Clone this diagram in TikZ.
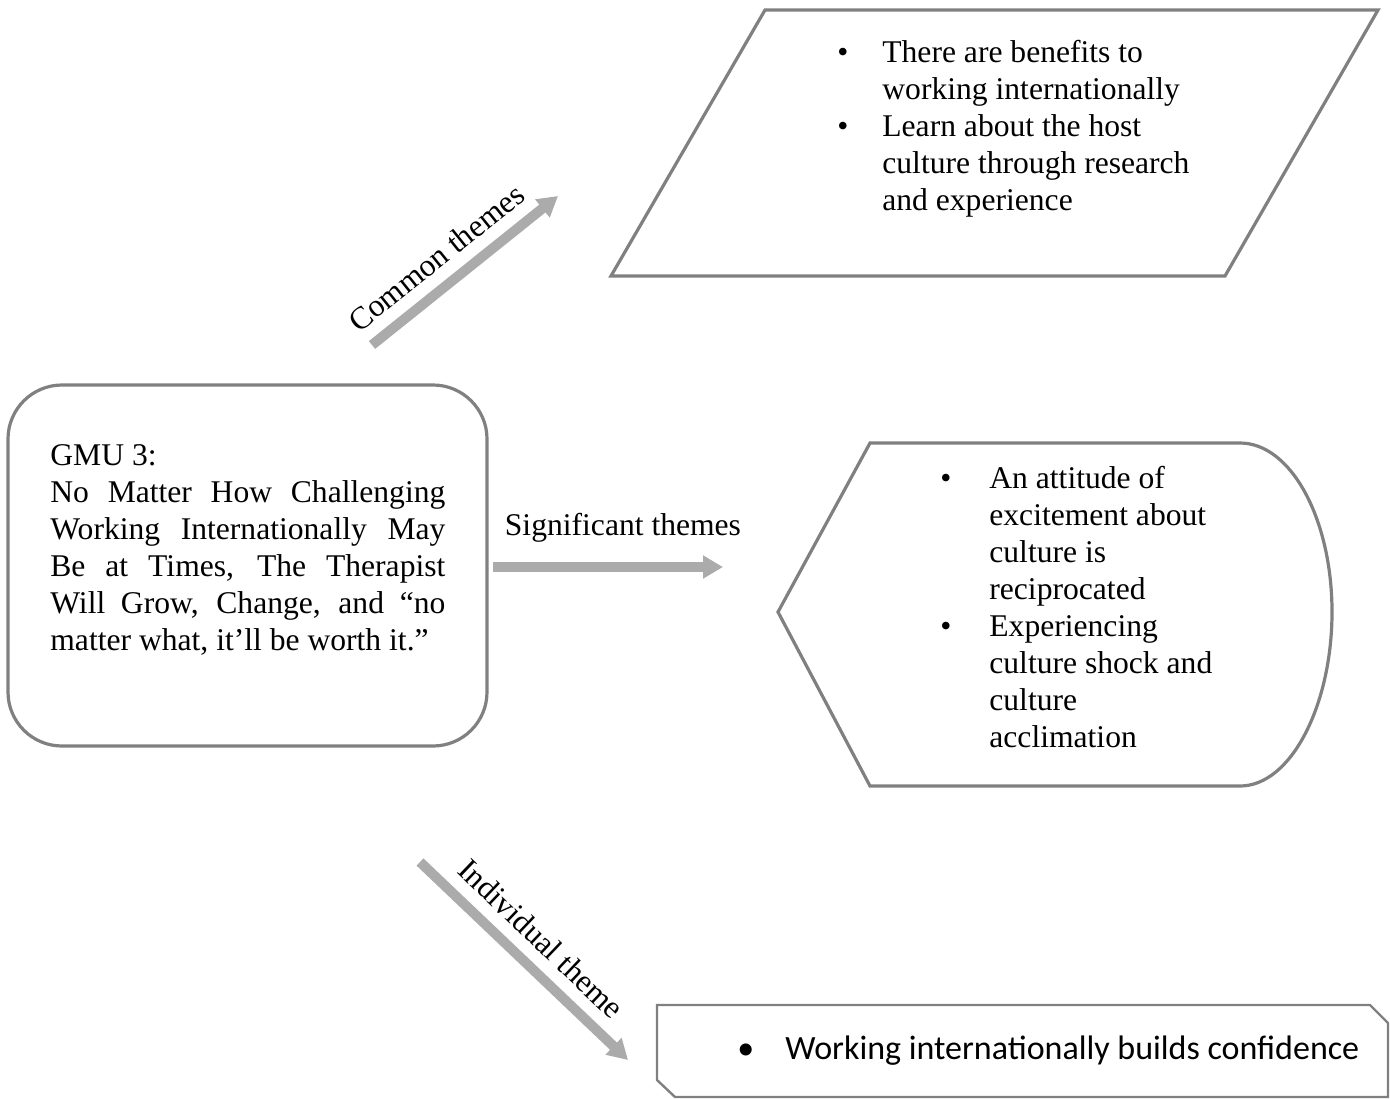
\documentclass[tikz,border=0pt]{standalone}
\usepackage{fontspec}
\setmainfont{Liberation Serif}
\newfontfamily\calibrifont{Carlito}
\usetikzlibrary{arrows.meta}
\newcommand{\figfont}{\fontsize{15.8}{18.5}\selectfont}
\newcommand{\bul}[1][22.5pt]{\makebox[#1][l]{\textbullet}\ignorespaces}
\newcommand{\cont}[1][22.5pt]{\makebox[#1]{}\ignorespaces}

\begin{document}
\begin{tikzpicture}[
    x=0.5pt, y=-0.5pt,
    outline/.style={draw=black!50, line width=1.6pt},
    txt/.style={inner sep=0pt, anchor=west, align=left, font=\figfont},
    arr/.style={-{Triangle[length=10pt, width=11pt]}, line width=5pt, draw=black!33},
    lbl/.style={font=\figfont, inner sep=3pt},
]
    \useasboundingbox (0,0) rectangle (1390,1098);

    % outlines
    \draw[outline] (765,10) -- (1378,10) -- (1225,276) -- (611,276) -- cycle;
    \draw[outline, rounded corners=27pt] (8,385) rectangle (487,746);
    \draw[outline] (778,612) -- (870,443) -- (1240,443)
        .. controls (1291,443) and (1332,519) .. (1332,612)
        .. controls (1332,705) and (1291,786) .. (1240,786)
        -- (870,786) -- cycle;
    \draw[outline, line width=1.2pt] (657,1080) -- (657,1005) -- (1370,1005)
        -- (1388,1023) -- (1388,1097) -- (675,1097) -- cycle;

    % texts
    \node[txt, text width=197.5pt, align=justify] (gmu) at (50,550)
        {GMU 3:\\ No Matter How Challenging\linebreak Working Internationally May\linebreak
         Be at Times, The Therapist\linebreak Will Grow, Change, and “no\linebreak
         matter what, it’ll be worth it.”};
    \node[txt] (common) at (837,129)
        {\bul There are benefits to\\ \cont working internationally\\
         \bul Learn about the host\\ \cont culture through research\\ \cont and experience};
    \node[txt] (signif) at (940,607)
        {\bul[24.5pt] An attitude of\\ \cont[24.5pt] excitement about\\
         \cont[24.5pt] culture is\\ \cont[24.5pt] reciprocated\\
         \bul[24.5pt] Experiencing\\ \cont[24.5pt] culture shock and\\
         \cont[24.5pt] culture\\ \cont[24.5pt] acclimation};
    \node[txt, font=\calibrifont\fontsize{17}{20}\selectfont] (indiv) at (737,1051)
        {\bul[24pt] Working internationally builds confidence};

    % arrows
    \coordinate (cs) at (372,345);
    \coordinate (ce) at (558,196);
    \coordinate (ss) at (493,567);
    \coordinate (se) at (723,567);
    \coordinate (is) at (420,862);
    \coordinate (ie) at (628,1060);

    \draw[arr] (cs) -- (ce) node[lbl, sloped, above=3pt, pos=0.44] (commonlbl) {Common themes};
    \draw[arr] (ss) -- (se) node[lbl, above=7pt, pos=0.565] (signiflbl) {Significant themes};
    \draw[arr] (is) -- (ie) node[lbl, sloped, above=3pt, pos=0.49] (indivlbl) {Individual theme};
\end{tikzpicture}
\end{document}
